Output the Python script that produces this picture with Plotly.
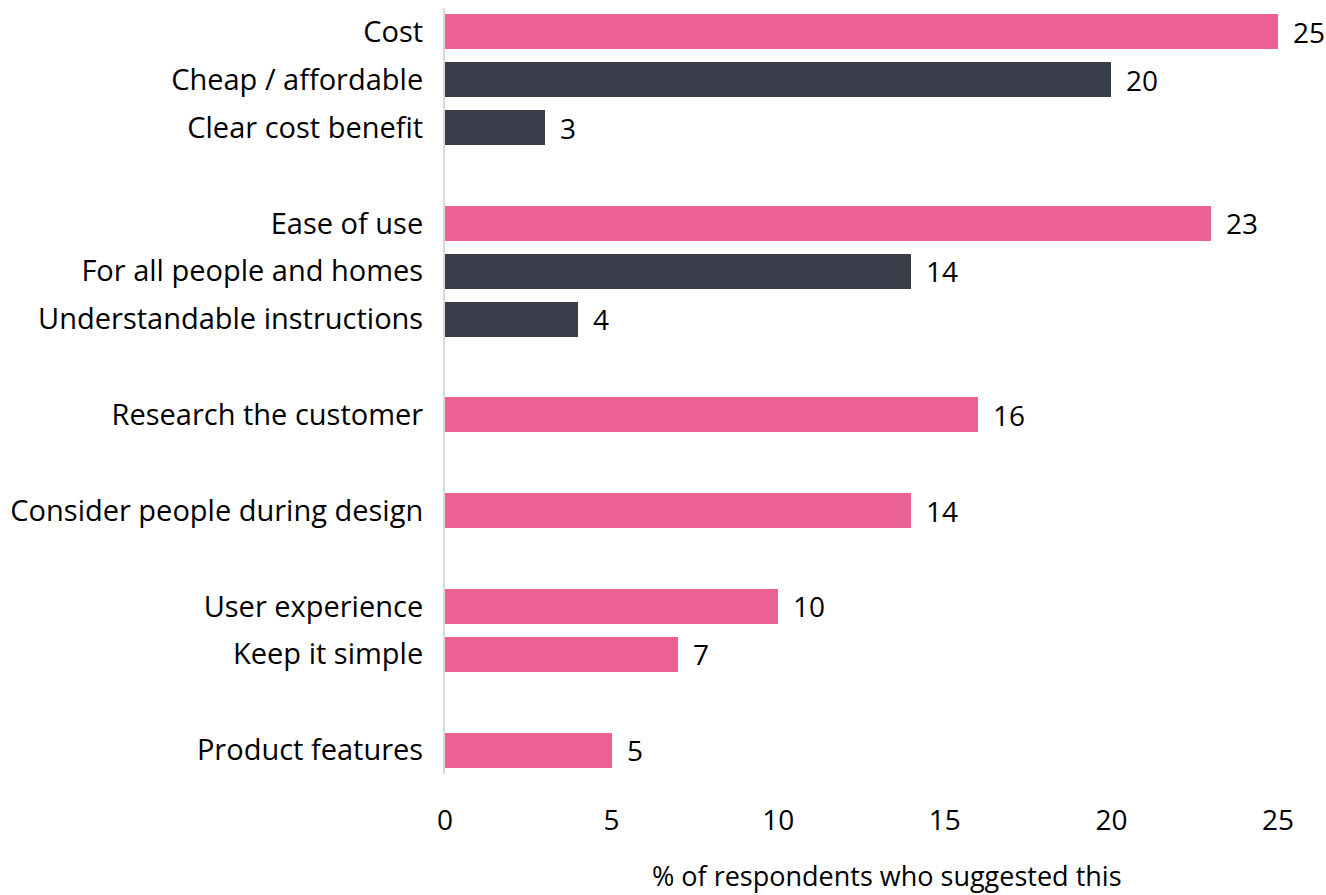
import plotly.graph_objects as go

categories = ["Cost", "Cheap / affordable", "Clear cost benefit",
              "Ease of use", "For all people and homes", "Understandable instructions",
              "Research the customer",
              "Consider people during design",
              "User experience", "Keep it simple",
              "Product features"]
values = [25, 20, 3, 23, 14, 4, 16, 14, 10, 7, 5]
groups = [1, 1, 1, 2, 2, 2, 3, 4, 5, 5, 6]
is_main = [True, False, False, True, False, False, True, True, True, True, True]
x_ticks = [0, 5, 10, 15, 20, 25]
x_title = "% of respondents who suggested this"

PINK = "#EC6194"
DARK = "#393D4A"
FONT = "Open Sans"
FS = 29

# slot positions with a blank slot between groups
positions = []
slot = 0
prev = None
for g in groups:
    if prev is not None and g != prev:
        slot += 1
    positions.append(slot)
    slot += 1
    prev = g
n_slots = slot

colors = [PINK if m else DARK for m in is_main]

fig = go.Figure(go.Bar(
    x=values, y=positions, orientation="h",
    marker=dict(color=colors, line=dict(width=0)),
    width=0.73, hoverinfo="skip",
))

for v, p in zip(values, positions):
    fig.add_annotation(x=v, y=p, text=str(v), showarrow=False,
                       xanchor="left", yanchor="middle", xshift=13, yshift=0,
                       font=dict(family=FONT, size=FS - 1, color="#000000"))

# axis title (slightly right of centre, as in the original)
fig.add_annotation(x=0.531, y=0, xref="paper", yref="paper", text=x_title,
                   showarrow=False, xanchor="center", yanchor="top", yshift=-82,
                   borderpad=0,
                   font=dict(family=FONT, size=FS - 2, color="#000000"))

fig.update_layout(
    width=1326, height=895,
    margin=dict(l=445, r=48, t=8, b=121),
    paper_bgcolor="white", plot_bgcolor="white",
    font=dict(family=FONT, size=FS, color="#000000"),
    showlegend=False,
    bargap=0,
)
fig.update_yaxes(
    tickvals=positions, ticktext=categories,
    range=[n_slots - 0.5, -0.5],
    showgrid=False, zeroline=False,
    showline=True, linecolor="#D9D9D9", linewidth=2,
    ticks="", ticklabelstandoff=14, automargin=False,
    tickfont=dict(family=FONT, size=FS, color="#000000"),
)
fig.update_xaxes(
    range=[0, 25], tickvals=x_ticks,
    showgrid=False, zeroline=False, showline=False,
    ticks="", ticklabelstandoff=27, automargin=False,
    tickfont=dict(family=FONT, size=FS - 1, color="#000000"),
)

fig.write_html("out.html")
